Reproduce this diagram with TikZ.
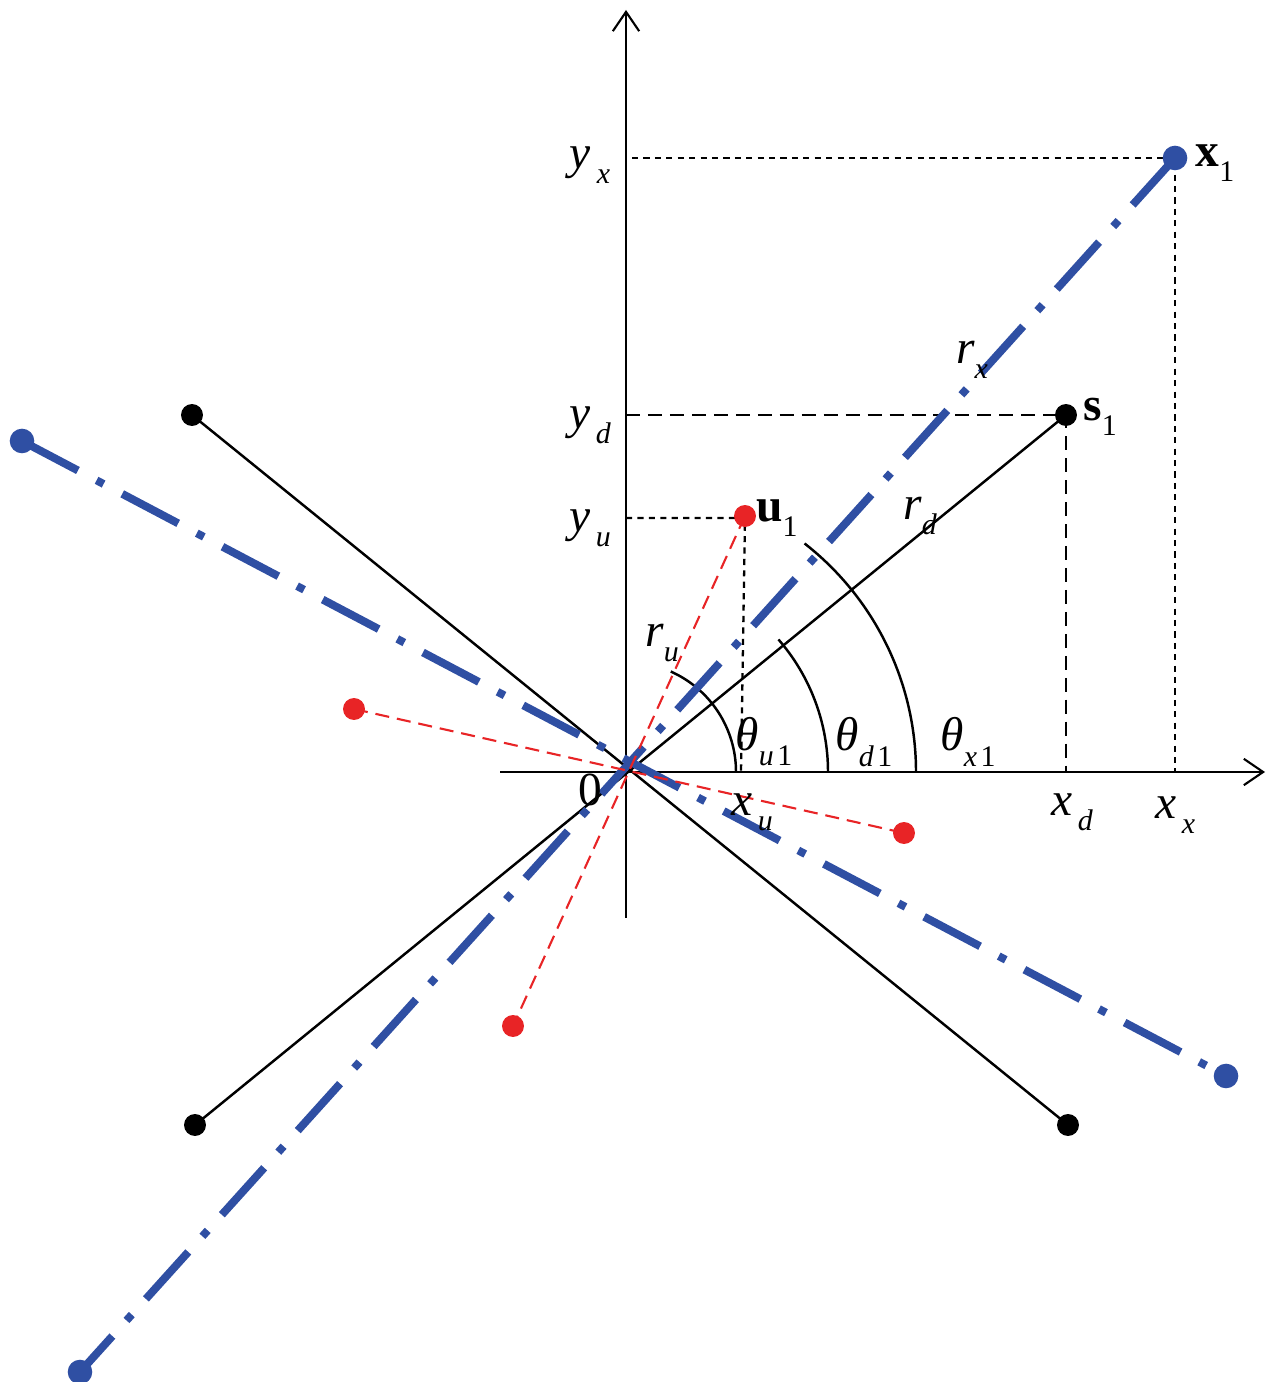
\documentclass[tikz,border=0pt]{standalone}
\usepackage{fontspec}
\setmainfont{Liberation Serif}
\usetikzlibrary{arrows.meta}
\definecolor{ptblue}{RGB}{47,79,163}
\definecolor{ptred}{RGB}{232,36,38}
\newcommand{\sublbl}[2]{\textit{#1}\hspace{0.12em}\raisebox{-0.32em}{\fontsize{17}{19}\selectfont\textit{#2}}}
\newcommand{\rlbl}[1]{\textit{r}\raisebox{-0.32em}{\fontsize{17}{19}\selectfont\textit{#1}}}
\newcommand{\anglbl}[2]{\textit{θ}\raisebox{-0.32em}{\fontsize{17}{19}\selectfont\textit{#1}\hspace{0.12em}#2}}
\newcommand{\veclbl}[1]{\textbf{#1}\raisebox{-0.32em}{\fontsize{17}{19}\selectfont 1}}
\begin{document}
\begin{tikzpicture}[x=0.02cm,y=0.02cm,
    font=\fontsize{27}{31}\selectfont,
    axis/.style={line width=1.2pt,-{Straight Barb[length=11pt,width=15pt]}},
    solidline/.style={line width=1.4pt},
    projshort/.style={line width=1.3pt,dash pattern=on 3.5pt off 3pt},
    projlong/.style={line width=1.3pt,dash pattern=on 8pt off 4.5pt},
    redline/.style={ptred,line width=1.2pt,dash pattern=on 8pt off 4.5pt},
    blueline/.style={ptblue,line width=4.5pt,dash pattern=on 36pt off 12pt on 4.5pt off 12pt},
    blackdot/.style={circle,inner sep=0pt,minimum size=12.5pt,fill=black},
    bluedot/.style={circle,inner sep=0pt,minimum size=14pt,fill=ptblue},
    reddot/.style={circle,inner sep=0pt,minimum size=12.5pt,fill=ptred}]
    \useasboundingbox (0,0) rectangle (1268,1382);
    \coordinate (O) at (626,610);
    \coordinate (xs) at (500,610);
    \coordinate (xe) at (1265,610);
    \coordinate (ys) at (626,464);
    \coordinate (ye) at (626,1372);
    \coordinate (px1) at (1175,1224);
    \coordinate (ps1) at (1066,967);
    \coordinate (pu1) at (745,866);
    \coordinate (pbnw) at (192,967);
    \coordinate (pbsw) at (195,257);
    \coordinate (pbse) at (1068,257);
    \coordinate (plw) at (22,941);
    \coordinate (plse) at (1226,306);
    \coordinate (plsw) at (80,10);
    \coordinate (prw) at (354,673);
    \coordinate (prse) at (904,549);
    \coordinate (prs) at (513,356);
    \coordinate (fxx) at (1175,610);
    \coordinate (fxd) at (1066,610);
    \coordinate (fxu) at (741,610);
    \coordinate (fyx) at (632,1224);
    \coordinate (fyd) at (626,967);
    \coordinate (fyu) at (626,864);
    % axes
    \draw[axis] (xs) -- (xe);
    \draw[axis] (ys) -- (ye);
    % projections
    \draw[projshort] (fyx) -- (px1) -- (fxx);
    \draw[projlong] (fyd) -- (ps1) -- (fxd);
    \draw[projshort] (fyu) -- (pu1 |- fyu) -- (fxu);
    % angles
    \draw[solidline] ([shift={(110,0)}]O) arc[start angle=0,end angle=66,radius=110];
    \draw[solidline] ([shift={(202,0)}]O) arc[start angle=0,end angle=41,radius=202];
    \draw[solidline] ([shift={(290,0)}]O) arc[start angle=0,end angle=52,radius=290];
    % rays
    \draw[solidline] (ps1) -- (pbsw);
    \draw[solidline] (pbnw) -- (pbse);
    \draw[blueline] (px1) -- (plsw);
    \draw[blueline] (plw) -- (plse);
    \draw[redline] (pu1) -- (prs);
    \draw[redline] (prw) -- (prse);
    % points
    \node[bluedot] (x1) at (px1) {};
    \node[blackdot] (s1) at (ps1) {};
    \node[reddot] (u1) at (pu1) {};
    \node[blackdot] (bnw) at (pbnw) {};
    \node[blackdot] (bsw) at (pbsw) {};
    \node[blackdot] (bse) at (pbse) {};
    \node[bluedot] (lw) at (plw) {};
    \node[bluedot] (lse) at (plse) {};
    \node[bluedot] (lsw) at (plsw) {};
    \node[reddot] (rw) at (prw) {};
    \node[reddot] (rse) at (prse) {};
    \node[reddot] (rs) at (prs) {};
    % labels
    \node (x1lbl) at (1215,1219) {\veclbl{x}};
    \node (s1lbl) at (1100,965) {\veclbl{s}};
    \node (u1lbl) at (777,864) {\veclbl{u}};
    \node (yxlbl) at (590,1217) {\sublbl{y}{x}};
    \node (ydlbl) at (590,957) {\sublbl{y}{d}};
    \node (yulbl) at (590,854) {\sublbl{y}{u}};
    \node (xulbl) at (752,570) {\sublbl{x}{u}};
    \node (xdlbl) at (1072,570) {\sublbl{x}{d}};
    \node (xxlbl) at (1175,567) {\sublbl{x}{x}};
    \node (zerolbl) at (590,592) {0};
    \node (thulbl) at (764,640) {\anglbl{u}{1}};
    \node (thdlbl) at (864,640) {\anglbl{d}{1}};
    \node (thxlbl) at (968,640) {\anglbl{x}{1}};
    \node (rulbl) at (662,739) {\rlbl{u}};
    \node (rdlbl) at (920,866) {\rlbl{d}};
    \node (rxlbl) at (972,1022) {\rlbl{x}};
\end{tikzpicture}
\end{document}
